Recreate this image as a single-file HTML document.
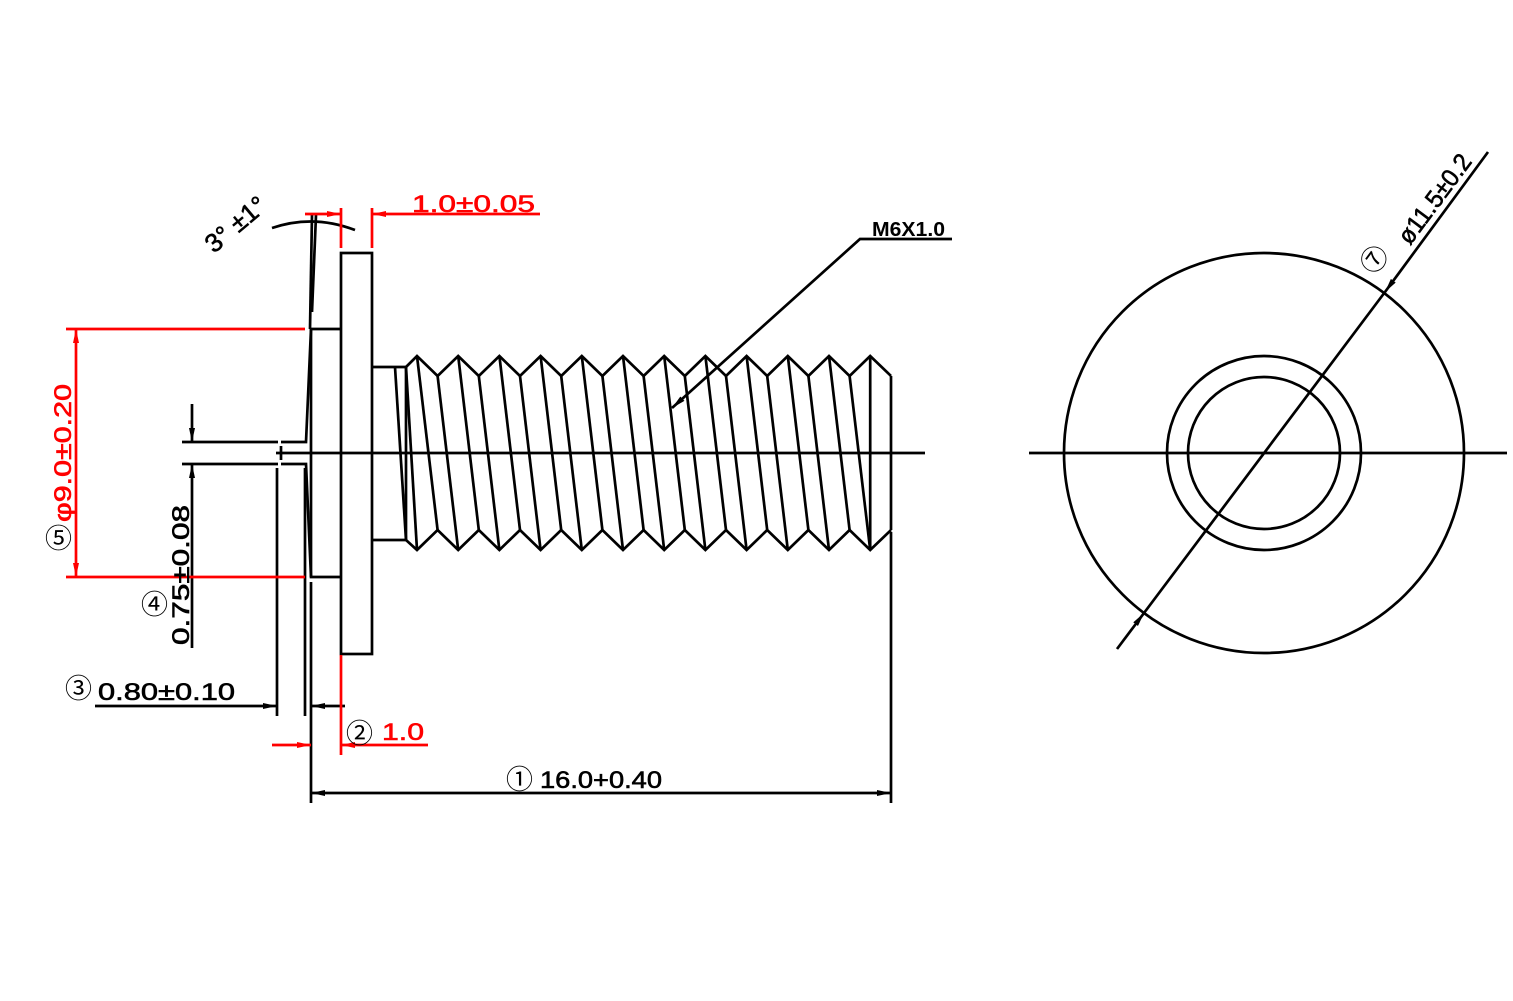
<!DOCTYPE html>
<html><head><meta charset="utf-8"><style>
html,body{margin:0;padding:0;background:#fff;width:1513px;height:1001px;overflow:hidden}
svg{display:block}
text{font-family:"Liberation Sans","DejaVu Sans",sans-serif}
.c{font-family:"Noto Sans CJK JP","WenQuanYi Zen Hei",sans-serif;font-size:27px}
</style></head><body>
<svg id="s" width="1513" height="1001" viewBox="0 0 1513 1001" xmlns="http://www.w3.org/2000/svg">
<defs>
<marker id="ab" viewBox="0 0 14 6" refX="14" refY="3" markerWidth="14" markerHeight="6" markerUnits="userSpaceOnUse" orient="auto"><path d="M0,0 L14,3 L0,6z" fill="#000"/></marker>
<marker id="ar" viewBox="0 0 14 6" refX="14" refY="3" markerWidth="14" markerHeight="6" markerUnits="userSpaceOnUse" orient="auto"><path d="M0,0 L14,3 L0,6z" fill="red"/></marker>
</defs>
<g stroke="#000" stroke-width="2.7" fill="none" id="g">
<line x1="276" y1="453" x2="925" y2="453"/>
<rect x="341" y="253" width="31" height="401"/>
<polyline points="182,442 278,442"/>
<polyline points="182,464 278,464"/>
<polyline points="281,446 281,460"/>
<polyline points="281,442 306,442 311,329 341,329"/>
<polyline points="281,464 306,464 311,577 341,577"/>
<line x1="311" y1="329" x2="311" y2="577"/>
<line x1="312" y1="215" x2="310" y2="329"/>
<line x1="316" y1="215" x2="312" y2="312"/>
<line x1="311" y1="582" x2="311" y2="803"/>
<line x1="277" y1="468" x2="277" y2="716"/>
<line x1="305" y1="468" x2="305" y2="716"/>
<polyline points="372,367 406,367"/>
<polyline points="372,540 406,540"/>
<line x1="891" y1="376" x2="891" y2="530"/>
<line x1="891" y1="532" x2="891" y2="803"/>
<line x1="192" y1="404" x2="192" y2="442" marker-end="url(#ab)"/>
<line x1="192" y1="648" x2="192" y2="464" marker-end="url(#ab)"/>
<line x1="95" y1="706" x2="277" y2="706" marker-end="url(#ab)"/>
<line x1="345" y1="706" x2="311" y2="706" marker-end="url(#ab)"/>
<line x1="600" y1="793" x2="311" y2="793" marker-end="url(#ab)"/>
<line x1="600" y1="793" x2="891" y2="793" marker-end="url(#ab)"/>
<polyline points="952,239 860,239 672,408" marker-end="url(#ab)"/>
<path d="M272,228 Q313,214 355,230"/>
<circle cx="1264" cy="453" r="200"/>
<circle cx="1264" cy="453" r="97"/>
<circle cx="1264" cy="453" r="76"/>
<line x1="1029" y1="453" x2="1507" y2="453"/>
<line x1="1117" y1="649" x2="1144" y2="613" marker-end="url(#ab)"/>
<line x1="1488" y1="152" x2="1385" y2="292" marker-end="url(#ab)"/>
<line x1="1144" y1="613" x2="1385" y2="292"/>
</g>
<g stroke="red" stroke-width="2.7" fill="none">
<line x1="66" y1="329" x2="305" y2="329"/>
<line x1="66" y1="577" x2="305" y2="577"/>
<line x1="76" y1="453" x2="76" y2="329" marker-end="url(#ar)"/>
<line x1="76" y1="453" x2="76" y2="577" marker-end="url(#ar)"/>
<line x1="341" y1="208" x2="341" y2="248"/>
<line x1="372" y1="208" x2="372" y2="248"/>
<line x1="305" y1="214" x2="341" y2="214" marker-end="url(#ar)"/>
<line x1="540" y1="214" x2="372" y2="214" marker-end="url(#ar)"/>
<line x1="341" y1="655" x2="341" y2="755"/>
<line x1="272" y1="745" x2="311" y2="745" marker-end="url(#ar)"/>
<line x1="428" y1="745" x2="341" y2="745" marker-end="url(#ar)"/>
</g>
<g font-size="24" stroke-width="0.6">
<text x="412" y="212" fill="red" stroke="red" textLength="123" lengthAdjust="spacingAndGlyphs">1.0±0.05</text>
<text x="872" y="236" font-size="20" font-weight="bold" textLength="73" lengthAdjust="spacingAndGlyphs">M6X1.0</text>
<text transform="translate(214,254) rotate(-40)" font-size="26" stroke="#000">3°  ±1°</text>
<text transform="translate(71,522) rotate(-90)" fill="red" stroke="red" textLength="138" lengthAdjust="spacingAndGlyphs">φ9.0±0.20</text>
<text class="c" x="45" y="548">⑤</text>
<text transform="translate(189,645) rotate(-90)" stroke="#000" textLength="140" lengthAdjust="spacingAndGlyphs">0.75±0.08</text>
<text class="c" x="141" y="614">④</text>
<text class="c" x="65" y="698">③</text>
<text x="98" y="700" stroke="#000" textLength="137" lengthAdjust="spacingAndGlyphs">0.80±0.10</text>
<text class="c" x="346" y="743">②</text>
<text x="382" y="740" fill="red" stroke="red" textLength="42" lengthAdjust="spacingAndGlyphs">1.0</text>
<text class="c" x="506" y="789">①</text>
<text x="540" y="788" stroke="#000" textLength="122" lengthAdjust="spacingAndGlyphs">16.0+0.40</text>
<text class="c" transform="translate(1374,276) rotate(-53.3)">⑦</text>
<text transform="translate(1410,246) rotate(-53.3)" font-size="25" stroke="#000" textLength="105" lengthAdjust="spacingAndGlyphs">ø11.5±0.2</text>
</g>
<script>
(function(){
var g=document.getElementById('g'),ns='http://www.w3.org/2000/svg';
function L(a,b,c,d){var l=document.createElementNS(ns,'line');l.setAttribute('x1',a);l.setAttribute('y1',b);l.setAttribute('x2',c);l.setAttribute('y2',d);g.appendChild(l);}
var P=41.2,c0=417,top=[[406,367]],bot=[[406,540]];
for(var k=0;k<12;k++){var c=c0+P*k,r=c+P/2;
top.push([c,356]);bot.push([c,550]);
if(k<11){top.push([r,376]);bot.push([r,530]);}
if(k<11){L(c,356,r,530);L(r,376,c+P,550);}else{L(c,356,c,550);}
}
top.push([891,376]);bot.push([891,530]);
[top,bot].forEach(function(a){var p=document.createElementNS(ns,'polyline');p.setAttribute('points',a.map(function(q){return q.join(',')}).join(' '));g.appendChild(p);});
L(395,367,406,540);L(406,367,417,550);L(406,367,406,540);
})();
</script>
</svg>
</body></html>
